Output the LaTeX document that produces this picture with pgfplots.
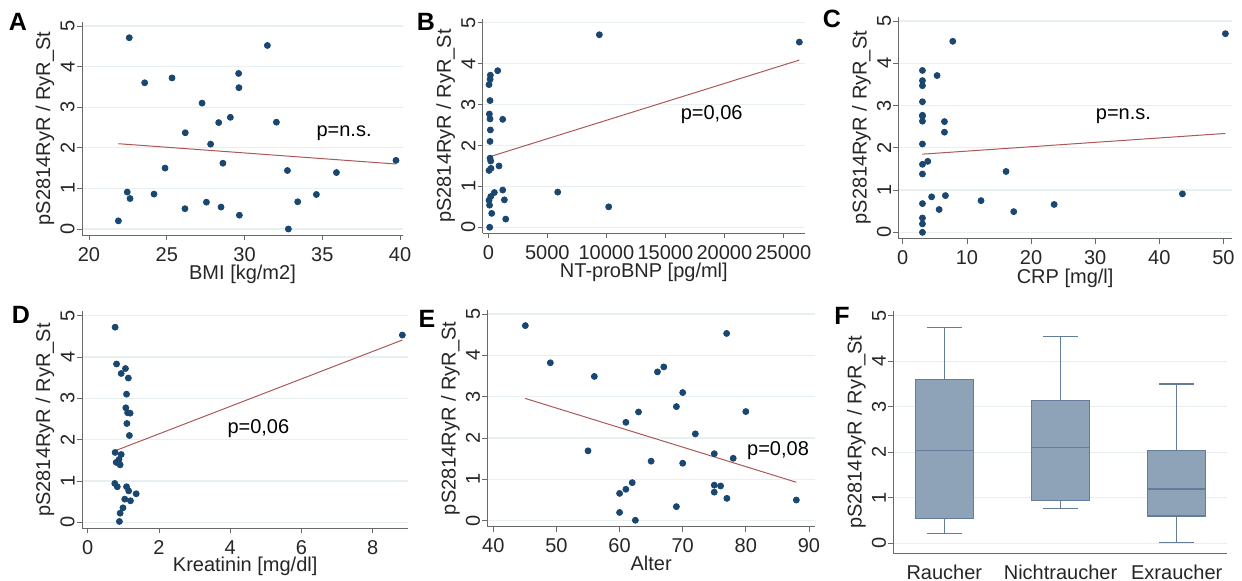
\documentclass[border=0pt]{standalone}
\usepackage{fontspec}
\setmainfont{Liberation Sans}
\usepackage{pgfplots}
\pgfplotsset{compat=1.18}
\usepgfplotslibrary{statistics}
\definecolor{dotblue}{RGB}{26,71,111}
\definecolor{fitred}{RGB}{172,88,88}
\definecolor{axgray}{RGB}{105,105,105}
\definecolor{gridc}{RGB}{232,239,241}
\definecolor{boxfill}{RGB}{142,163,184}
\definecolor{boxline}{RGB}{98,124,154}

\pgfplotsset{
  panel/.style={
    scale only axis, anchor=south west,
    axis x line*=bottom, axis y line*=left,
    axis line style={draw=axgray,-},
    every tick/.style={draw=axgray},
    tick align=outside, major tick length=2.5pt,
    ymin=-0.15, ymax=5.1, ytick={0,1,2,3,4,5},
    ymajorgrids, grid style={draw=gridc, line width=0.6pt},
    yticklabel style={rotate=90, anchor=south, inner sep=1pt},
    tick label style={font=\fontsize{10}{12}\selectfont, text=black!85},
    label style={font=\fontsize{10}{12}\selectfont, text=black!85},
    ylabel={pS2814RyR / RyR\_St},
    ylabel style={yshift=-1.5pt},
    /pgf/number format/assume math mode=true,
    /pgf/number format/1000 sep={},
    scaled x ticks=false,
    clip=false,
  },
  dots/.style={only marks, mark=*, mark size=1.5pt, color=dotblue, mark options={draw=dotblue, fill=dotblue}},
  fit/.style={fitred, line width=0.5pt, no marks},
  bx/.style={draw=boxline, fill=boxfill, line width=0.6pt, solid},
}

\begin{document}
\begin{tikzpicture}
\useasboundingbox (0,0) rectangle (621pt,290.5pt);

% A
\begin{axis}[panel, at={(41pt,172.95pt)}, width=160.5pt, height=106.6pt,
  xmin=19.55, xmax=40.19, xtick={20,25,30,35,40}, xlabel={BMI [kg/m2]},
  xlabel style={yshift=5pt}]
\addplot[dots] coordinates {
(22.59,4.71) (31.47,4.52) (23.58,3.60) (25.34,3.72) (29.62,3.83) (29.64,3.48)
(27.27,3.10) (29.09,2.75) (28.34,2.62) (32.05,2.63) (26.19,2.37) (27.82,2.09)
(28.61,1.62) (24.89,1.50) (32.76,1.44) (35.91,1.39) (39.74,1.69) (22.46,0.91)
(22.64,0.75) (24.18,0.86) (34.62,0.85) (33.42,0.67) (27.55,0.66) (28.49,0.54)
(26.17,0.50) (29.67,0.34) (21.89,0.20) (32.82,0.0)};
\addplot[fit] coordinates {(21.89,2.10) (39.74,1.60)};
\node[font=\fontsize{10}{12}\selectfont] at (axis cs:36.4,2.36) {p=n.s.};
\end{axis}

% B
\begin{axis}[panel, at={(241.35pt,173.8pt)}, width=161.15pt, height=107.3pt,
  xmin=-480, xmax=26836, xtick={0,5000,10000,15000,20000,25000}, xlabel={NT-proBNP [pg/ml]},
  xlabel style={yshift=5pt}]
\addplot[dots] coordinates {
(9407,4.71) (26356,4.53) (791,3.83) (170,3.72) (150,3.62) (56,3.49)
(141,3.10) (85,2.77) (141,2.65) (1215,2.64) (170,2.38) (141,2.10)
(141,1.69) (198,1.62) (904,1.50) (226,1.44) (56,1.39) (1215,0.91)
(5876,0.86) (508,0.85) (198,0.75) (1356,0.67) (56,0.66) (100,0.54)
(10198,0.50) (282,0.34) (1469,0.20) (113,0.0)};
\addplot[fit] coordinates {(56,1.72) (26356,4.09)};
\node[font=\fontsize{10}{12}\selectfont] at (axis cs:18926,2.75) {p=0,06};
\end{axis}

% C
\begin{axis}[panel, at={(449.2pt,171.15pt)}, width=166.7pt, height=110.95pt,
  xmin=-0.68, xmax=51.3, xtick={0,10,20,30,40,50}, xlabel={CRP [mg/l]},
  xlabel style={yshift=5pt}]
\addplot[dots] coordinates {
(50.3,4.70) (7.8,4.52) (3.07,3.83) (5.35,3.71) (3.07,3.59) (3.07,3.47)
(3.07,3.09) (3.07,2.75) (3.07,2.63) (6.5,2.62) (6.5,2.37) (3.07,2.09)
(3.9,1.68) (3.07,1.61) (3.07,1.38) (16.1,1.44) (43.6,0.91) (6.65,0.87)
(4.5,0.84) (12.2,0.75) (3.07,0.68) (23.6,0.66) (5.67,0.54) (17.3,0.49)
(3.07,0.34) (3.07,0.20) (3.07,0.0) (3.07,2.77)};
\addplot[fit] coordinates {(3.07,1.85) (50.3,2.34)};
\node[font=\fontsize{10}{12}\selectfont] at (axis cs:34.4,2.74) {p=n.s.};
\end{axis}

% D
\begin{axis}[panel, at={(41pt,26.25pt)}, width=163.2pt, height=108.5pt,
  xmin=-0.16, xmax=9.0, xtick={0,2,4,6,8}, xlabel={Kreatinin [mg/dl]},
  xlabel style={yshift=5.5pt}]
\addplot[dots] coordinates {
(0.77,4.72) (8.83,4.53) (0.81,3.83) (1.06,3.72) (0.94,3.60) (1.14,3.49)
(1.09,3.10) (1.07,2.77) (1.12,2.65) (1.19,2.64) (1.10,2.39) (1.17,2.10)
(0.77,1.69) (0.94,1.64) (0.88,1.52) (0.80,1.45) (0.91,1.39) (0.76,0.94)
(0.83,0.86) (1.09,0.86) (1.15,0.76) (1.36,0.69) (1.04,0.56) (1.20,0.52)
(0.99,0.35) (0.91,0.22) (0.89,0.02)};
\addplot[fit] coordinates {(0.77,1.73) (8.83,4.41)};
\node[font=\fontsize{10}{12}\selectfont] at (axis cs:4.79,2.27) {p=0,06};
\end{axis}

% E
\begin{axis}[panel, at={(243.67pt,27.05pt)}, width=163.8pt, height=108.5pt,
  xmin=39.05, xmax=90.95, xtick={40,50,60,70,80,90}, xlabel={Alter},
  xlabel style={yshift=5.5pt}]
\addplot[dots] coordinates {
(45.07,4.72) (76.96,4.53) (49.03,3.82) (56,3.49) (66,3.60) (67,3.72)
(70,3.10) (69,2.76) (63,2.63) (80,2.64) (61,2.38) (72,2.10)
(55,1.69) (75,1.62) (78,1.51) (65,1.44) (70,1.39) (62,0.92)
(75,0.86) (76,0.84) (61,0.76) (60,0.66) (75,0.69) (77,0.54)
(88,0.50) (69,0.34) (60,0.20) (62.5,0.01)};
\addplot[fit] coordinates {(45,2.96) (88,0.93)};
\node[font=\fontsize{10}{12}\selectfont] at (axis cs:85.1,1.69) {p=0,08};
\end{axis}

% F
\begin{axis}[panel, at={(446.67pt,13.85pt)}, width=166.67pt, height=121.1pt,
  ymin=-0.22, xmin=0.561, xmax=3.43, xtick={1,2,3},
  xticklabels={Raucher,Nichtraucher,Exraucher},
  x tick style={draw=none}, boxplot/draw direction=y]
\addplot[bx, boxplot prepared={median=2.04, upper quartile=3.60, lower quartile=0.55,
  upper whisker=4.74, lower whisker=0.22, draw position=1, box extend=0.5, whisker extend=0.3}]
  coordinates {};
\addplot[bx, boxplot prepared={median=2.11, upper quartile=3.13, lower quartile=0.94,
  upper whisker=4.55, lower whisker=0.76, draw position=2, box extend=0.5, whisker extend=0.3}]
  coordinates {};
\addplot[bx, boxplot prepared={median=1.19, upper quartile=2.04, lower quartile=0.60,
  upper whisker=3.50, lower whisker=0.02, draw position=3, box extend=0.5, whisker extend=0.3}]
  coordinates {};
\end{axis}

% panel letters
\begin{scope}[every node/.style={font=\fontsize{12.5}{15}\selectfont\bfseries, inner sep=0pt}]
\node at (9pt,279.5pt) {A};
\node at (213pt,279.5pt) {B};
\node at (416pt,281pt) {C};
\node at (10.5pt,133pt) {D};
\node at (213.5pt,131pt) {E};
\node at (421pt,132.5pt) {F};
\end{scope}
\end{tikzpicture}
\end{document}
